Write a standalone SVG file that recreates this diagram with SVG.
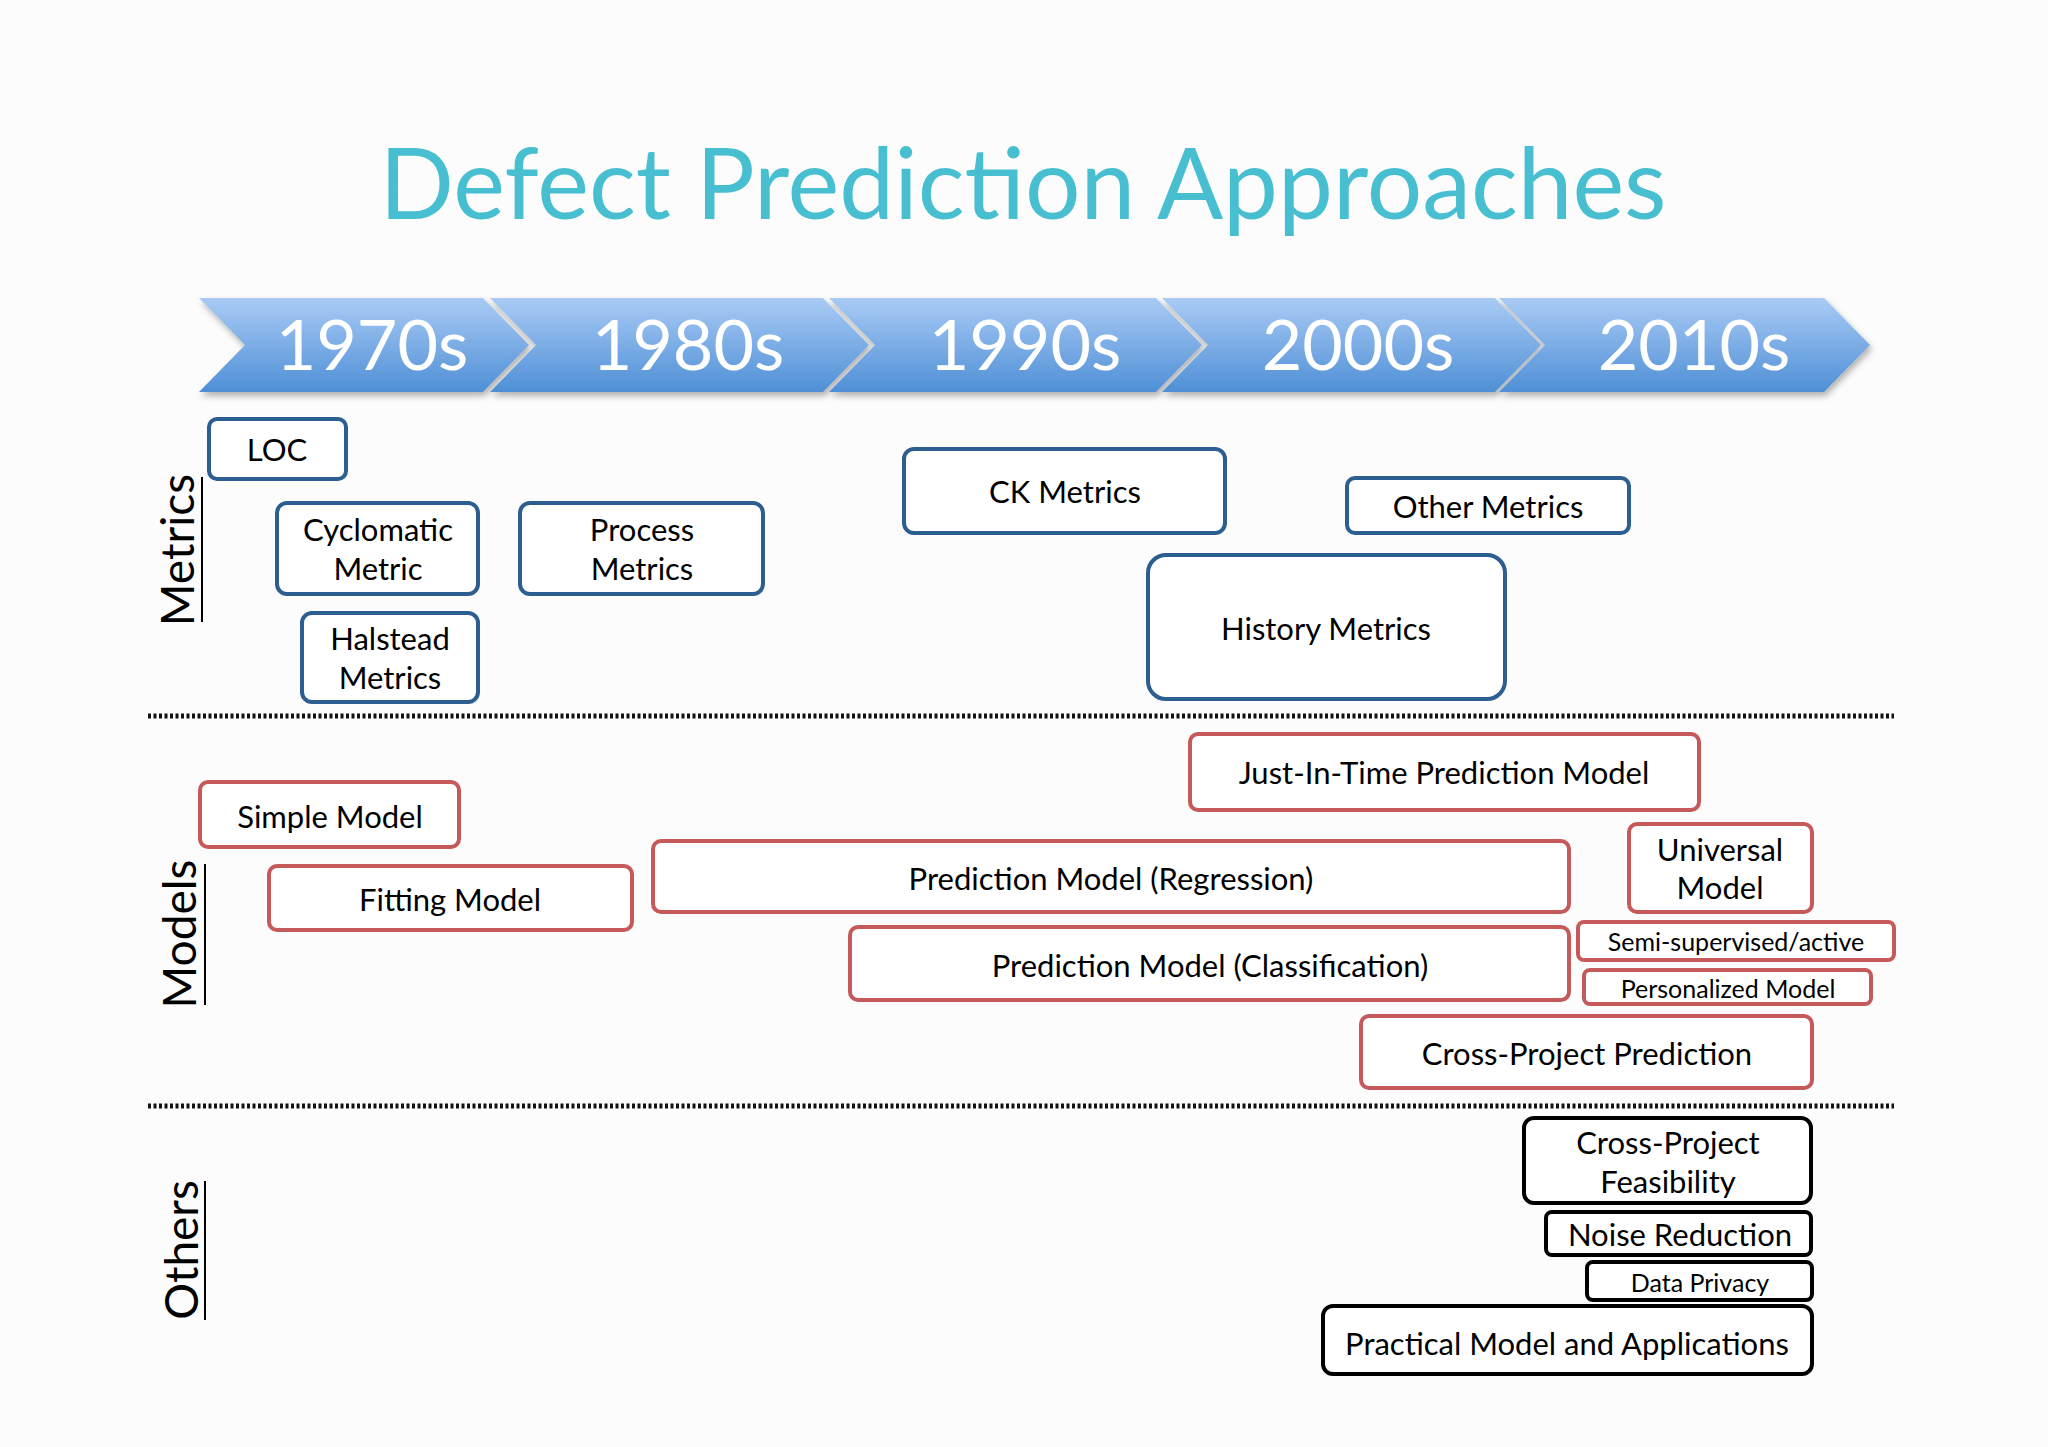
<svg xmlns="http://www.w3.org/2000/svg" width="2048" height="1447" viewBox="0 0 2048 1447">
<defs>
<linearGradient id="chev" x1="0" y1="0" x2="0" y2="1">
<stop offset="0" stop-color="#A9CBF5"/><stop offset="1" stop-color="#4F8FD6"/>
</linearGradient>
<filter id="sh" x="-5%" y="-10%" width="110%" height="130%"><feDropShadow dx="2" dy="4" stdDeviation="3" flood-color="#000" flood-opacity="0.3"/></filter>
</defs>
<style>
text{font-family:Lato,"Open Sans",sans-serif;text-anchor:middle}
.t{font-size:31px;fill:#000}
.s{font-size:25px;fill:#000}
.yr{font-size:70px;fill:#fff}
.blue{fill:#fff;stroke:#2C5E8F;stroke-width:4}
.red{fill:#fff;stroke:#C65A5A;stroke-width:4}
.blk{fill:#fff;stroke:#000;stroke-width:4}
.sep{stroke:#111;stroke-width:5;stroke-dasharray:3 2.5}
.sec{font-size:46px;fill:#000}
</style>
<rect width="2048" height="1447" fill="#FCFCFC"/>
<text x="1023" y="219" style="font-size:98px;fill:#48BFD0">Defect Prediction Approaches</text>
<g id="timeline" filter="url(#sh)" fill="url(#chev)">
<polygon points="199,298 483,298 529,345 483,392 199,392 245,345"/>
<polygon points="490,298 823,298 869,345 823,392 490,392 536,345"/>
<polygon points="829,298 1156,298 1202,345 1156,392 829,392 875,345"/>
<polygon points="1162,298 1495,298 1541,345 1495,392 1162,392 1208,345"/>
<polygon points="1499,298 1824,298 1870,345 1824,392 1499,392 1545,345"/>
</g>
<g id="years">
<text class="yr" x="372" y="370">1970s</text>
<text class="yr" x="688" y="370">1980s</text>
<text class="yr" x="1025" y="370">1990s</text>
<text class="yr" x="1358" y="370">2000s</text>
<text class="yr" x="1694" y="370">2010s</text>
</g>
<g id="connectors">
<line class="sep" x1="148" y1="716" x2="1894" y2="716"/>
<line class="sep" x1="148" y1="1106" x2="1894" y2="1106"/>
</g>
<g id="sections">
<text class="sec" transform="translate(194,550) rotate(-90)">Metrics</text>
<line x1="202" y1="477" x2="202" y2="622" stroke="#000" stroke-width="2"/>
<text class="sec" transform="translate(196,934) rotate(-90)">Models</text>
<line x1="205" y1="864" x2="205" y2="1005" stroke="#000" stroke-width="2"/>
<text class="sec" transform="translate(198,1250) rotate(-90)">Others</text>
<line x1="205" y1="1181" x2="205" y2="1320" stroke="#000" stroke-width="2"/>
</g>
<g id="loc"><rect class="blue" x="209" y="419" width="137" height="60" rx="8"/><text class="t" x="277" y="461">LOC</text></g>
<g id="cyclomatic"><rect class="blue" x="277" y="503" width="201" height="91" rx="10"/><text class="t" x="378" y="541">Cyclomatic</text><text class="t" x="378" y="580">Metric</text></g>
<g id="halstead"><rect class="blue" x="302" y="613" width="176" height="89" rx="10"/><text class="t" x="390" y="650">Halstead</text><text class="t" x="390" y="689">Metrics</text></g>
<g id="process"><rect class="blue" x="520" y="503" width="243" height="91" rx="10"/><text class="t" x="642" y="541">Process</text><text class="t" x="642" y="580">Metrics</text></g>
<g id="ck"><rect class="blue" x="904" y="449" width="321" height="84" rx="10"/><text class="t" x="1065" y="503">CK Metrics</text></g>
<g id="other"><rect class="blue" x="1347" y="478" width="282" height="55" rx="8"/><text class="t" x="1488" y="518">Other Metrics</text></g>
<g id="history"><rect class="blue" x="1148" y="555" width="357" height="144" rx="18"/><text class="t" x="1326" y="640">History Metrics</text></g>
<g id="jit"><rect class="red" x="1190" y="734" width="509" height="76" rx="8"/><text class="t" x="1444" y="784">Just-In-Time Prediction Model</text></g>
<g id="simple"><rect class="red" x="200" y="782" width="259" height="65" rx="8"/><text class="t" x="330" y="828">Simple Model</text></g>
<g id="fitting"><rect class="red" x="269" y="866" width="363" height="64" rx="8"/><text class="t" x="450" y="911">Fitting Model</text></g>
<g id="regression"><rect class="red" x="653" y="841" width="916" height="71" rx="8"/><text class="t" x="1111" y="890">Prediction Model (Regression)</text></g>
<g id="universal"><rect class="red" x="1629" y="824" width="183" height="88" rx="8"/><text class="t" x="1720" y="861">Universal</text><text class="t" x="1720" y="899">Model</text></g>
<g id="semi"><rect class="red" x="1578" y="922" width="316" height="38" rx="6"/><text class="s" x="1736" y="951">Semi-supervised/active</text></g>
<g id="personalized"><rect class="red" x="1584" y="970" width="287" height="34" rx="6"/><text class="s" x="1728" y="998">Personalized  Model</text></g>
<g id="classification"><rect class="red" x="850" y="927" width="719" height="73" rx="8"/><text class="t" x="1210" y="977">Prediction Model (Classification)</text></g>
<g id="cpp"><rect class="red" x="1361" y="1016" width="451" height="72" rx="8"/><text class="t" x="1587" y="1065">Cross-Project Prediction</text></g>
<g id="feasibility"><rect class="blk" x="1524" y="1118" width="287" height="85" rx="10"/><text class="t" x="1668" y="1154">Cross-Project</text><text class="t" x="1668" y="1193">Feasibility</text></g>
<g id="noise"><rect class="blk" x="1546" y="1212" width="265" height="43" rx="6"/><text class="t" x="1680" y="1246">Noise Reduction</text></g>
<g id="privacy"><rect class="blk" x="1587" y="1262" width="225" height="38" rx="6"/><text class="s" x="1700" y="1292">Data Privacy</text></g>
<g id="practical"><rect class="blk" x="1323" y="1306" width="489" height="68" rx="10"/><text class="t" x="1567" y="1355">Practical Model and Applications</text></g>
</svg>
